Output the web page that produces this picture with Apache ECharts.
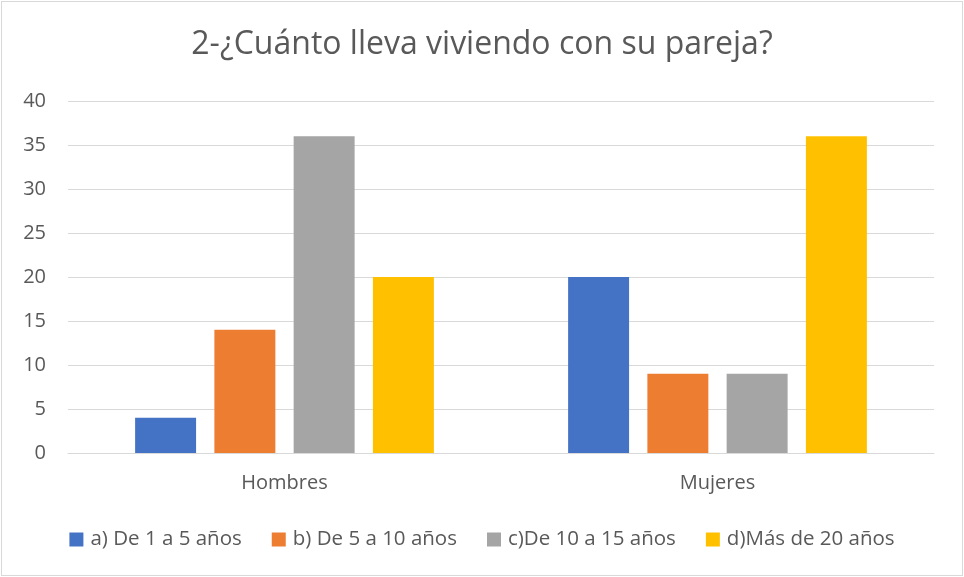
<!DOCTYPE html>
<html>
<head>
<meta charset="utf-8">
<script src="https://cdn.jsdelivr.net/npm/echarts@6/dist/echarts.min.js"></script>
<style>
html,body{margin:0;padding:0;background:#fff;}
#chartDiv{width:960px;height:573px;border:1px solid #d9d9d9;margin:1px;}
</style>
</head>
<body>
<div id="chartDiv"></div>
<script>
var categories = ['Hombres', 'Mujeres'];
var seriesNames = ['a) De 1 a 5 años', 'b) De 5 a 10 años', 'c)De 10 a 15 años', 'd)Más de 20 años'];
var valuesA = [4, 20];
var valuesB = [14, 9];
var valuesC = [36, 9];
var valuesD = [20, 36];
var colors = ['#4472c4', '#ed7d31', '#a5a5a5', '#ffc000'];

var myChart = echarts.init(document.getElementById('chartDiv'));
var font = 'Open Sans';
var allValues = [valuesA, valuesB, valuesC, valuesD];
var series = [];
for (var i = 0; i < seriesNames.length; i++) {
    series.push({
        name: seriesNames[i],
        type: 'bar',
        data: allValues[i],
        barGap: '30%',
        barCategoryGap: '31%',
        itemStyle: {color: colors[i]}
    });
}

var option = {
    animation: false,
    color: colors,
    title: {
        text: '2-¿Cuánto lleva viviendo con su pareja?',
        left: 'center',
        top: 22,
        textStyle: {fontFamily: font, fontSize: 32, fontWeight: 'normal', color: '#595959'}
    },
    legend: {
        bottom: 20,
        left: 'center',
        itemWidth: 14,
        itemHeight: 14,
        itemGap: 30,
        icon: 'rect',
        textStyle: {fontFamily: font, fontSize: 20.5, color: '#595959', padding: [0, 0, 0, 2]},
        data: seriesNames
    },
    grid: {left: 66, right: 28, top: 99, bottom: 122},
    xAxis: {
        type: 'category',
        data: categories,
        axisLine: {lineStyle: {color: '#d9d9d9'}},
        axisTick: {show: false},
        axisLabel: {fontFamily: font, fontSize: 20, color: '#595959', margin: 20}
    },
    yAxis: {
        type: 'value',
        min: 0,
        max: 40,
        interval: 5,
        axisLine: {show: false},
        axisTick: {show: false},
        splitLine: {lineStyle: {color: '#d9d9d9'}},
        axisLabel: {fontFamily: font, fontSize: 20, color: '#595959', margin: 22}
    },
    series: series
};
myChart.setOption(option);
</script>
</body>
</html>
